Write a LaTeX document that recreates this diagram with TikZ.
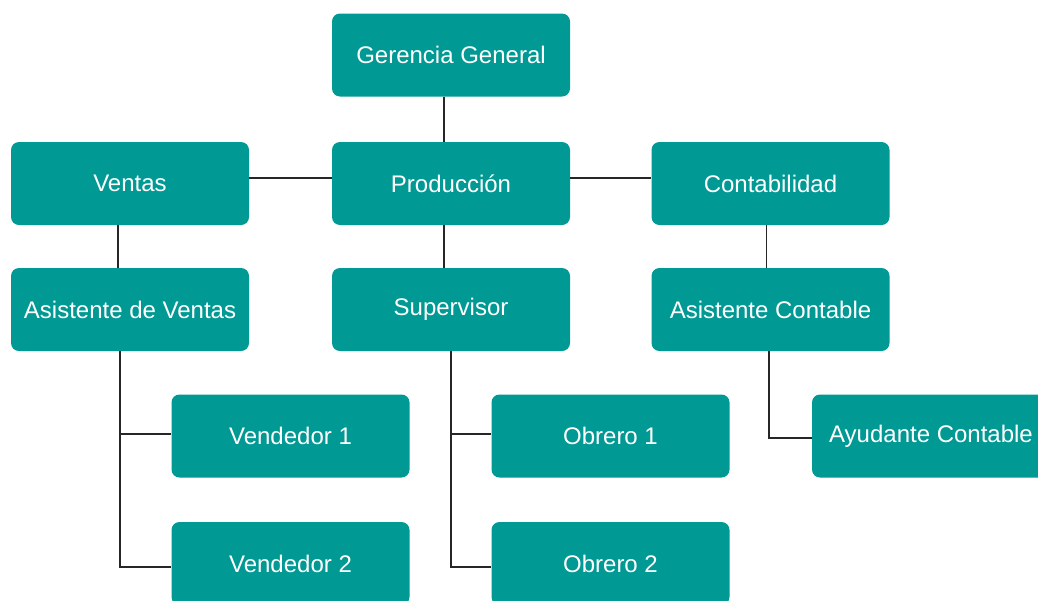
\documentclass[tikz,border=0pt]{standalone}
\usepackage{fontspec}
\setmainfont{Liberation Sans}
\definecolor{teal1}{RGB}{0,153,148}
\begin{document}
\begin{tikzpicture}[x=1pt,y=-1pt,
  box/.style={draw=none,fill=teal1,rounded corners=8pt,minimum width=238pt,minimum height=83pt,
    text=white,font=\fontsize{24}{28}\selectfont,inner sep=0pt},
  conn/.style={draw=black!85,line width=1.2pt}]
\clip (0,0) rectangle (1038,600);
\fill[white] (0,0) rectangle (1038,600);
% nodes
\node[box] (gg) at (451,55) {Gerencia General};
\node[box] (ven) at (130,183.5) {Ventas};
\node[box] (pro) at (451,183.5) {Producción};
\node[box] (con) at (770.5,183.5) {Contabilidad};
\node[box] (asv) at (130,309.5) {Asistente de Ventas};
\node[box] (sup) at (451,309.5) {Supervisor};
\node[box] (asc) at (770.5,309.5) {Asistente Contable};
\node[box] (v1) at (290.5,436) {Vendedor 1};
\node[box] (v2) at (290.5,563.5) {Vendedor 2};
\node[box] (o1) at (610.5,436) {Obrero 1};
\node[box] (o2) at (610.5,563.5) {Obrero 2};
\node[box] (ay) at (931,436) {Ayudante Contable};
% connectors
\draw[conn] ([xshift=-7pt]gg.south) -- ([xshift=-7pt]pro.north);
\draw[conn] ([yshift=5.5pt]ven.east) -- ([yshift=5.5pt]pro.west);
\draw[conn] ([yshift=5.5pt]pro.east) -- ([yshift=5.5pt]con.west);
\draw[conn] ([xshift=-12pt]ven.south) -- ([xshift=-12pt]asv.north);
\draw[conn] ([xshift=-7pt]pro.south) -- ([xshift=-7pt]sup.north);
\draw[conn] ([xshift=-4pt]con.south) -- ([xshift=-4pt]asc.north);
\draw[conn] ([xshift=-10pt]asv.south) |- ([yshift=2pt]v1.west);
\draw[conn] ([xshift=-10pt]asv.south) |- ([yshift=-3.5pt]v2.west);
\draw[conn] (sup.south) |- ([yshift=2pt]o1.west);
\draw[conn] (sup.south) |- ([yshift=-3.5pt]o2.west);
\draw[conn] ([xshift=-1.5pt]asc.south) |- ([yshift=-2pt]ay.west);
\end{tikzpicture}
\end{document}
